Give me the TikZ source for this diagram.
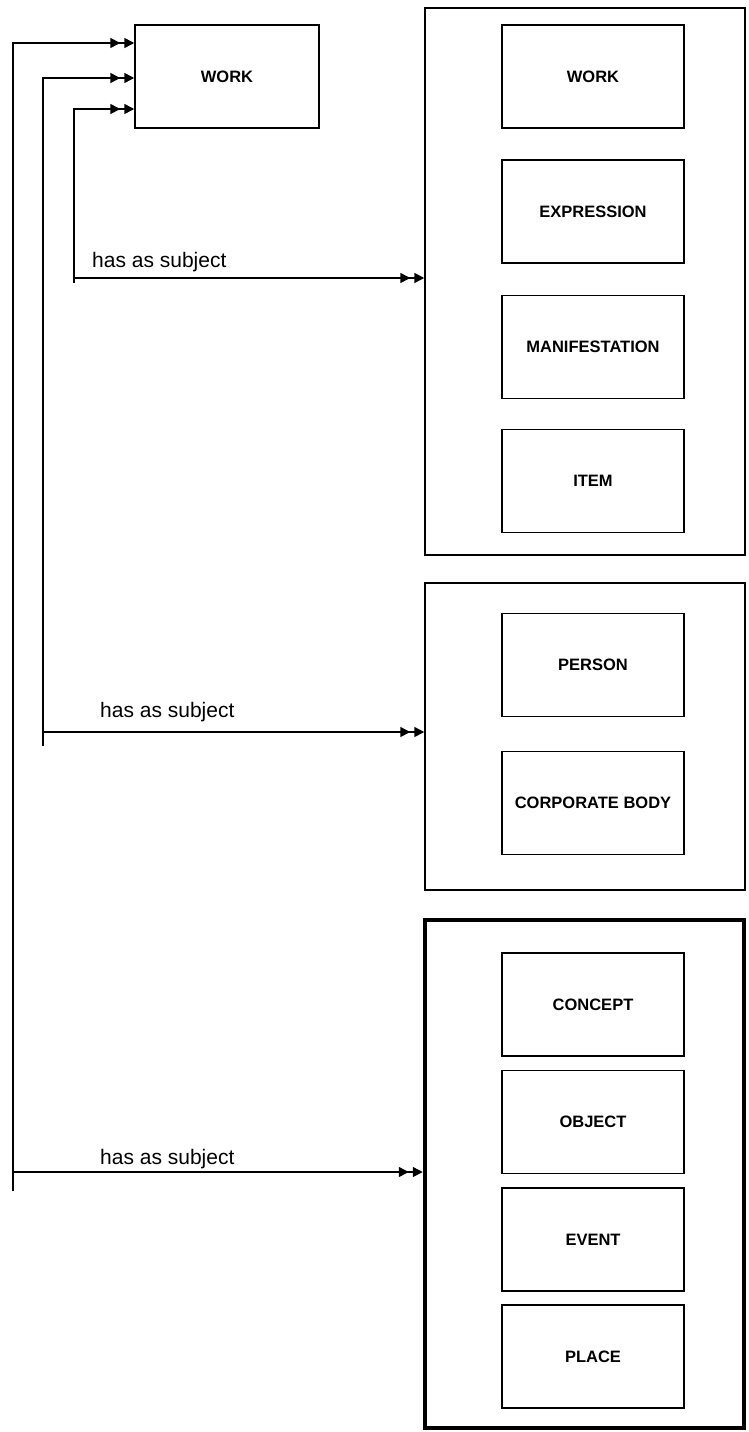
\documentclass[tikz,border=0pt]{standalone}
\usepackage{fontspec}
\setmainfont{Liberation Sans}
\usetikzlibrary{arrows.meta}
\tikzset{
  entity/.style={draw, line width=1.5pt, minimum width=182pt, minimum height=103pt,
    inner sep=0pt, font=\fontsize{16.5}{18}\selectfont\bfseries},
  group/.style={draw, line width=1.5pt, inner sep=0pt},
  link/.style={line width=1.5pt,
    -{Triangle[length=10pt,width=10pt,sep=4pt] Triangle[length=10pt,width=10pt]}},
  rel/.style={anchor=base west, inner sep=0pt, font=\fontsize{21}{24}\selectfont}
}
\begin{document}
\begin{tikzpicture}[x=1pt, y=-1pt]
	\useasboundingbox (0,0) rectangle (748,1432);
	% the work that has a subject
	\node[entity, minimum width=184pt] (work) at (227,76.5) {WORK};
	% group 1
	\node[group, minimum width=320pt, minimum height=547pt] (grpOne) at (585,281.5) {};
	\node[entity] (workOne) at (593,76.5) {WORK};
	\node[entity] (expr) at (593,211.5) {EXPRESSION};
	\node[entity] (manif) at (593,347) {MANIFESTATION};
	\node[entity] (item) at (593,481) {ITEM};
	% group 2
	\node[group, minimum width=320pt, minimum height=307pt] (grpTwo) at (585,736.5) {};
	\node[entity] (person) at (593,665) {PERSON};
	\node[entity] (corp) at (593,803) {CORPORATE BODY};
	% group 3
	\node[group, line width=4.5pt, minimum width=319pt, minimum height=508pt] (grpThree) at (584.5,1174) {};
	\node[entity] (concept) at (593,1004.5) {CONCEPT};
	\node[entity] (object) at (593,1122) {OBJECT};
	\node[entity] (event) at (593,1239.5) {EVENT};
	\node[entity] (place) at (593,1356.5) {PLACE};

	% connectors
	\coordinate (inA) at (work.west |- 0,43);
	\coordinate (inB) at (work.west |- 0,78);
	\coordinate (inC) at (work.west |- 0,109);
	\coordinate (tailA) at (13,1191);
	\coordinate (tailB) at (43,746);
	\coordinate (tailC) at (74,283);
	\coordinate (hA) at (13,1172);
	\coordinate (hB) at (43,732);
	\coordinate (hC) at (74,278);
	\draw[link] (tailA) |- (inA);
	\draw[link] (tailB) |- (inB);
	\draw[link] (tailC) |- (inC);
	\draw[link] (hC) -- (hC -| grpOne.west);
	\draw[link] (hB) -- (hB -| grpTwo.west);
	\draw[link] (hA) -- (hA -| grpThree.west);
	\node[rel] (labC) at (92,267) {has as subject};
	\node[rel] (labB) at (100,717) {has as subject};
	\node[rel] (labA) at (100,1164) {has as subject};
\end{tikzpicture}
\end{document}
